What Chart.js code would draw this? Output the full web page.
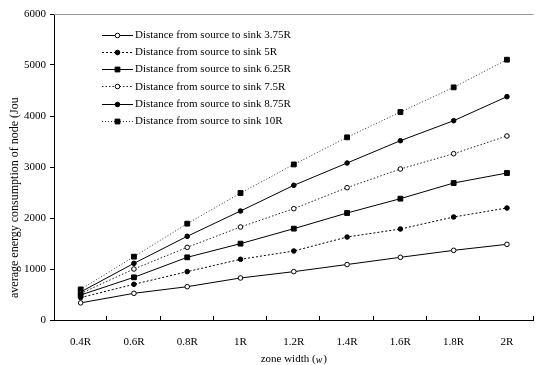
<!DOCTYPE html>
<html><head><meta charset="utf-8">
<script src="https://cdn.jsdelivr.net/npm/chart.js@4.4.1/dist/chart.umd.min.js"></script>
<style>html,body{margin:0;padding:0;background:#fff;}canvas{display:block;}</style>
</head><body>
<canvas id="c" width="538" height="365" style="width:538px;height:365px"></canvas>
<script>
const categories = ['0.4R','0.6R','0.8R','1R','1.2R','1.4R','1.6R','1.8R','2R'];
const seriesNames = ['Distance from source to sink 3.75R','Distance from source to sink 5R','Distance from source to sink 6.25R','Distance from source to sink 7.5R','Distance from source to sink 8.75R','Distance from source to sink 10R'];
const d375 = [336, 523, 653, 824, 948, 1088, 1229, 1366, 1484];
const d5   = [440, 700, 948, 1190, 1353, 1627, 1784, 2020, 2196];
const d625 = [490, 837, 1229, 1497, 1791, 2098, 2379, 2686, 2882];
const d75  = [520, 1000, 1425, 1824, 2183, 2595, 2961, 3261, 3608];
const d875 = [550, 1111, 1641, 2137, 2641, 3078, 3516, 3908, 4379];
const d10  = [600, 1242, 1889, 2490, 3050, 3582, 4078, 4562, 5104];
const yTicks = [0, 1000, 2000, 3000, 4000, 5000, 6000];
const xTitle = 'zone width (w)';
const yTitle = 'average energy consumption of node (Jou';

const FONT = "'Liberation Serif', 'Times New Roman', serif";

function ds(label, data, dash, color, pstyle, fill, r) {
  return {label, data, borderColor: color, borderWidth: 1, borderDash: dash,
    pointStyle: pstyle, pointRadius: r, pointHoverRadius: r, pointBackgroundColor: fill,
    pointBorderColor: '#000', pointBorderWidth: 1, tension: 0, fill: false};
}

const datasets = [
  ds(seriesNames[0], d375, [], '#000', 'circle', '#fff', 2.3),
  ds(seriesNames[1], d5, [2,2], '#000', 'circle', '#000', 2.3),
  ds(seriesNames[2], d625, [], '#000', 'rect', '#000', 3.4),
  ds(seriesNames[3], d75, [1.5,2], '#222', 'circle', '#fff', 2.3),
  ds(seriesNames[4], d875, [], '#000', 'circle', '#000', 2.3),
  ds(seriesNames[5], d10, [1,2], '#333', 'rect', '#000', 3.4)
];

const extras = {
  id: 'extras',
  afterDraw(chart) {
    const ctx = chart.ctx;
    const xs = chart.scales.x;
    const ca = chart.chartArea;
    ctx.save();
    ctx.strokeStyle = '#999'; ctx.lineWidth = 1;
    ctx.beginPath(); ctx.moveTo(ca.left, ca.top + 0.5); ctx.lineTo(ca.right, ca.top + 0.5); ctx.stroke();
    ctx.strokeStyle = '#000';
    const n = categories.length;
    for (let i = 1; i <= n; i++) {
      const x = Math.round(xs.left + i * (xs.width / n)) - 0.5;
      ctx.beginPath(); ctx.moveTo(x, ca.bottom); ctx.lineTo(x, ca.bottom - 4); ctx.stroke();
    }
    ctx.font = '11px ' + FONT;
    ctx.textBaseline = 'middle'; ctx.textAlign = 'left';
    chart.data.datasets.forEach((d, i) => {
      const y = 34.5 + i * 17.3;
      ctx.save();
      ctx.strokeStyle = d.borderColor; ctx.lineWidth = 1; ctx.setLineDash(d.borderDash);
      ctx.beginPath(); ctx.moveTo(102, Math.round(y) + 0.5); ctx.lineTo(133, Math.round(y) + 0.5); ctx.stroke();
      ctx.restore();
      ctx.save();
      ctx.fillStyle = d.pointBackgroundColor; ctx.strokeStyle = '#000'; ctx.lineWidth = 1;
      Chart.helpers.drawPoint(ctx, {pointStyle: d.pointStyle, radius: d.pointRadius, borderWidth: 1, rotation: 0}, 117.5, Math.round(y) + 0.5);
      ctx.restore();
      ctx.fillStyle = '#000';
      ctx.fillText(d.label, 135, y + 0.5);
    });
    ctx.save();
    ctx.font = '12px ' + FONT;
    ctx.translate(15, 298);
    ctx.rotate(-Math.PI / 2);
    ctx.textAlign = 'left'; ctx.textBaseline = 'middle'; ctx.fillStyle = '#000';
    ctx.fillText(yTitle, 0, 0);
    ctx.restore();
    ctx.save();
    ctx.textBaseline = 'middle'; ctx.fillStyle = '#000';
    const p1 = 'zone width (', p2 = 'w', p3 = ')';
    ctx.font = '11px ' + FONT; const w1 = ctx.measureText(p1).width, w3 = ctx.measureText(p3).width;
    ctx.font = 'italic 10px ' + FONT; const w2 = ctx.measureText(p2).width + 1;
    let x0 = (ca.left + ca.right) / 2 - (w1 + w2 + w3) / 2;
    ctx.font = '11px ' + FONT; ctx.textAlign = 'left';
    ctx.fillText(p1, x0, 359);
    ctx.font = 'italic 10px ' + FONT; ctx.fillText(p2, x0 + w1, 360.5);
    ctx.font = '11px ' + FONT; ctx.fillText(p3, x0 + w1 + w2, 359);
    ctx.restore();
    ctx.restore();
  }
};

new Chart(document.getElementById('c'), {
  type: 'line',
  data: {labels: categories, datasets},
  options: {
    responsive: false, animation: false, devicePixelRatio: 1,
    layout: {padding: {top: 14, right: 0, left: 0, bottom: 0}},
    plugins: {legend: {display: false}, tooltip: {enabled: false}},
    scales: {
      x: {
        type: 'category', offset: true,
        grid: {display: false, offset: true},
        border: {display: true, color: '#000', width: 1},
        ticks: {font: {family: FONT, size: 11}, color: '#000', padding: 8, maxRotation: 0, autoSkip: false},
        afterFit: s => { s.height = 45; }
      },
      y: {
        min: 0, max: 6000,
        afterBuildTicks: s => { s.ticks = yTicks.map(v => ({value: v})); },
        grid: {drawOnChartArea: false, tickLength: 4, color: '#000'},
        border: {display: true, color: '#000', width: 1},
        ticks: {font: {family: FONT, size: 11}, color: '#000', padding: 4, callback: v => String(v)},
        afterFit: s => { s.width = 54; }
      }
    }
  },
  plugins: [extras]
});
</script>
</body></html>
